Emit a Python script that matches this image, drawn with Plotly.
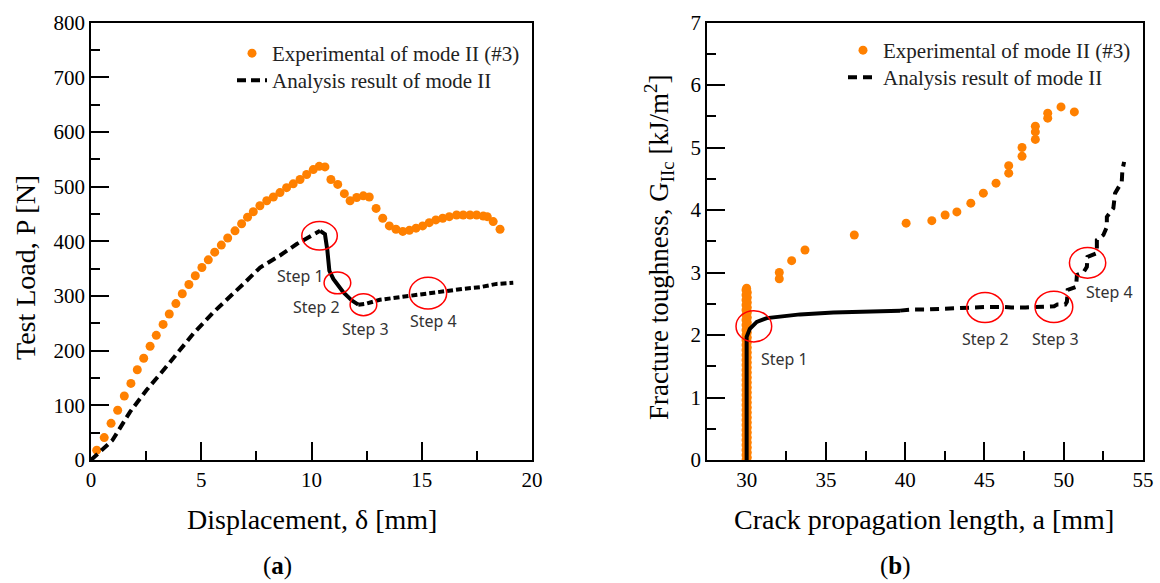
import plotly.graph_objects as go

# ---------------- Data (a): load-displacement ----------------
exp_disp = [0.26, 0.6, 0.91, 1.21, 1.51, 1.81, 2.1, 2.39, 2.68, 2.96, 3.27, 3.55, 3.85, 4.14,
            4.44, 4.73, 5.03, 5.32, 5.61, 5.91, 6.2, 6.53, 6.83, 7.1, 7.36, 7.66, 7.97, 8.27,
            8.57, 8.87, 9.17, 9.48, 9.78, 10.08, 10.35, 10.61, 10.88, 11.19, 11.49, 11.75,
            12.05, 12.35, 12.62, 12.93, 13.23, 13.53, 13.83, 14.14, 14.44, 14.74, 15.04,
            15.34, 15.64, 15.95, 16.25, 16.58, 16.88, 17.19, 17.49, 17.79, 17.97, 18.24, 18.55]
exp_load = [18, 41, 67, 91, 117, 140, 165, 186, 208, 228, 248, 267, 286, 304,
            321, 337, 352, 366, 380, 393, 406, 419, 432, 444, 454, 465, 474, 481,
            489, 498, 505, 513, 522, 531, 537, 536, 513, 504, 487, 474,
            480, 483, 481, 460, 442, 428, 422, 418, 420, 424, 428,
            434, 439, 442, 445, 448, 448, 448, 448, 446, 445, 436, 422]

ana_disp_pre = [0.0, 0.97, 1.77, 2.52, 3.28, 4.04, 4.64, 5.55, 6.3, 6.91, 7.67, 8.57, 9.33, 10.08, 10.39]
ana_load_pre = [0, 36, 88, 128, 164, 200, 231, 270, 298, 322, 352, 374, 395, 413, 419]
ana_disp_drop = [10.39, 10.61, 10.72, 10.81, 10.99, 11.44, 11.82, 12.12]
ana_load_drop = [419, 413, 383, 346, 331, 307, 292, 284]
ana_disp_post = [12.12, 12.5, 13.1, 13.86, 14.61, 15.37, 16.12, 16.88, 17.64, 18.4, 19.15]
ana_load_post = [284, 286, 293, 297, 301, 305, 310, 313, 316, 322, 324]

# ---------------- Data (b): fracture toughness ----------------
exp_col_a = [29.96, 30.04, 29.96, 30.04, 29.96, 30.04, 29.96, 30.04, 29.96, 30.04,
             29.96, 30.04, 29.96, 30.04, 29.96, 30.04, 29.96, 30.04, 29.96, 30.04,
             29.96, 30.04, 29.96, 30.04, 29.96, 30.04, 29.96, 30.04, 29.96, 30.04,
             29.96, 30.04, 29.96, 30.04, 29.96, 30.04, 29.96, 30.04, 29.96, 30.04,
             29.96, 30.04, 29.96, 30.04, 29.96, 30.04, 29.96, 30.04, 29.96, 30.04,
             29.96, 30.04, 29.96, 30.04, 29.96, 30.04, 29.96, 30.04, 29.96, 30.04,
             29.96, 30.04, 29.96, 30.04, 29.96, 30.04, 29.96, 30.04, 29.96, 30.0]
exp_col_g = [0.0, 0.04, 0.08, 0.12, 0.16, 0.2, 0.24, 0.28, 0.32, 0.36,
             0.4, 0.44, 0.48, 0.52, 0.56, 0.6, 0.64, 0.68, 0.72, 0.76,
             0.8, 0.84, 0.88, 0.92, 0.96, 1.0, 1.04, 1.08, 1.12, 1.16,
             1.2, 1.24, 1.28, 1.32, 1.36, 1.4, 1.44, 1.48, 1.52, 1.56,
             1.6, 1.64, 1.68, 1.72, 1.76, 1.8, 1.84, 1.88, 1.92, 1.96,
             2.0, 2.04, 2.08, 2.12, 2.16, 2.2, 2.24, 2.28, 2.32, 2.36,
             2.4, 2.44, 2.48, 2.52, 2.56, 2.6, 2.64, 2.68, 2.72, 2.75]
exp_a = [32.06, 32.06, 32.84, 33.68, 36.79, 40.06, 41.68, 42.52, 43.26, 44.14, 44.93,
         45.73, 46.53, 46.53, 47.37, 47.37, 48.21, 48.21, 48.21, 48.99, 48.99, 49.83, 50.67]
exp_g = [2.9, 3.0, 3.19, 3.36, 3.6, 3.79, 3.83, 3.92, 3.97, 4.11, 4.27,
         4.43, 4.59, 4.71, 4.86, 5.0, 5.13, 5.25, 5.34, 5.47, 5.55, 5.65, 5.57]

ana_a_solid = [30.0, 30.0, 30.0, 30.2, 30.64, 31.27, 32.3, 33.37, 35.47, 37.58, 39.26, 39.68]
ana_g_solid = [0.0, 1.0, 1.97, 2.1, 2.21, 2.27, 2.3, 2.33, 2.36, 2.38, 2.39, 2.39]
ana_a_dash = [39.68, 40.6, 41.5, 42.5, 44.6, 45.2, 46.2, 46.7, 47.6, 48.6, 49.4, 49.6, 50.1,
              50.2, 50.25, 50.78, 50.83, 51.24, 51.46, 51.5, 52.09, 52.09, 52.5, 52.72,
              52.72, 53.13, 53.24, 53.66, 53.7, 53.81]
ana_g_dash = [2.39, 2.41, 2.41, 2.42, 2.45, 2.45, 2.45, 2.44, 2.44, 2.45, 2.46, 2.49, 2.49,
              2.53, 2.72, 2.77, 2.96, 3.0, 3.09, 3.25, 3.31, 3.52, 3.6, 3.73,
              3.89, 4.03, 4.27, 4.45, 4.64, 4.77]

# ---------------- Annotations (steps) ----------------
steps_a = ["Step 1", "Step 2", "Step 3", "Step 4"]
step_circ_a = [(9.56, 11.17, 384, 436), (10.57, 11.78, 304, 344), (11.75, 12.96, 264, 304), (14.44, 16.13, 276, 334)]
step_lab_a = [(9.5, 337), (10.24, 279), (12.43, 240), (15.51, 255)]
step_circ_b = [(29.33, 31.58, 1.89, 2.39), (43.88, 46.19, 2.20, 2.68), (48.19, 50.57, 2.20, 2.70), (50.36, 52.65, 2.91, 3.40)]
step_lab_b = [(32.36, 1.62), (45.04, 1.94), (49.49, 1.94), (52.91, 2.69)]

ORANGE = "#FF8000"
SERIF = "Liberation Serif"

fig = go.Figure()

# (a)
fig.add_trace(go.Scatter(x=exp_disp, y=exp_load, mode="markers", name="Experimental of mode II (#3)",
                         marker=dict(color=ORANGE, size=9), xaxis="x", yaxis="y", legend="legend"))
fig.add_trace(go.Scatter(x=ana_disp_pre, y=ana_load_pre, mode="lines", name="Analysis result of mode II",
                         line=dict(color="black", width=4, dash="9px,5px"), xaxis="x", yaxis="y", legend="legend2"))
fig.add_trace(go.Scatter(x=ana_disp_drop, y=ana_load_drop, mode="lines", showlegend=False,
                         line=dict(color="black", width=4), xaxis="x", yaxis="y"))
fig.add_trace(go.Scatter(x=ana_disp_post, y=ana_load_post, mode="lines", showlegend=False,
                         line=dict(color="black", width=4, dash="6px,3px"), xaxis="x", yaxis="y"))

# (b)
fig.add_trace(go.Scatter(x=exp_col_a, y=exp_col_g, mode="markers", showlegend=False,
                         marker=dict(color=ORANGE, size=9), xaxis="x2", yaxis="y2"))
fig.add_trace(go.Scatter(x=exp_a, y=exp_g, mode="markers", name="Experimental of mode II (#3)",
                         marker=dict(color=ORANGE, size=9), xaxis="x2", yaxis="y2", legend="legend3"))
fig.add_trace(go.Scatter(x=ana_a_solid, y=ana_g_solid, mode="lines", showlegend=False,
                         line=dict(color="black", width=4), xaxis="x2", yaxis="y2"))
fig.add_trace(go.Scatter(x=ana_a_dash, y=ana_g_dash, mode="lines", name="Analysis result of mode II",
                         line=dict(color="black", width=4, dash="9px,6px"), xaxis="x2", yaxis="y2", legend="legend4"))

shapes = []
annotations = []
for (x0, x1, y0, y1) in step_circ_a:
    shapes.append(dict(type="circle", xref="x", yref="y", x0=x0, x1=x1, y0=y0, y1=y1,
                       line=dict(color="#FF0000", width=1.5)))
for (x0, x1, y0, y1) in step_circ_b:
    shapes.append(dict(type="circle", xref="x2", yref="y2", x0=x0, x1=x1, y0=y0, y1=y1,
                       line=dict(color="#FF0000", width=1.5)))
for t, (x, y) in zip(steps_a, step_lab_a):
    annotations.append(dict(text=t, x=x, y=y, xref="x", yref="y", showarrow=False,
                            xanchor="center", yanchor="middle",
                            font=dict(family="Noto Sans", size=16, color="#333333")))
for t, (x, y) in zip(steps_a, step_lab_b):
    annotations.append(dict(text=t, x=x, y=y, xref="x2", yref="y2", showarrow=False,
                            xanchor="center", yanchor="middle",
                            font=dict(family="Noto Sans", size=16, color="#333333")))

H = 583.0
W = 1160.0
def px(xp):
    return xp / W
def py(yp):
    return 1 - yp / H

title_font = dict(family=SERIF, size=28, color="black")
def paper_text(text, x, y, font, angle=0):
    return dict(text=text, x=px(x), y=py(y), xref="paper", yref="paper", textangle=angle,
                xanchor="center", yanchor="middle", showarrow=False, font=font)

annotations += [
    paper_text("Test Load, P [N]", 25, 268, title_font, -90),
    paper_text("Fracture toughness, G<sub>IIc</sub> [kJ/m<sup>2</sup>]", 659, 248,
               dict(family=SERIF, size=27, color="black"), -90),
    paper_text("Displacement, δ [mm]", 311.5, 519, title_font),
    paper_text("Crack propagation length, a [mm]", 924, 519, title_font),
    paper_text("(<b>a</b>)", 277.5, 566, dict(family=SERIF, size=25, color="black")),
    paper_text("(<b>b</b>)", 895, 566, dict(family=SERIF, size=25, color="black")),
]

tickfont = dict(family=SERIF, size=21, color="black")
def axis(rng, dtick, mdtick, domain, anchor):
    return dict(range=rng, dtick=dtick, tick0=0, domain=domain, anchor=anchor, automargin=False,
                showline=True, linecolor="black", linewidth=1.5, mirror=True,
                ticks="inside", ticklen=18, tickwidth=1.5, tickcolor="black",
                minor=dict(ticks="inside", ticklen=9, tickwidth=1.5, tickcolor="black", dtick=mdtick, tick0=0),
                showgrid=False, zeroline=False, tickfont=tickfont)

def leg(xp, ytop):
    return dict(x=px(xp), y=py(ytop), xanchor="left", yanchor="top", bgcolor="rgba(0,0,0,0)",
                font=dict(family=SERIF, size=21, color="#222222"))

ydom = [py(460), py(22.5)]
fig.update_layout(
    width=1160, height=583, margin=dict(l=0, r=0, t=0, b=0, autoexpand=False),
    paper_bgcolor="white", plot_bgcolor="white",
    xaxis=axis([0, 20], 5, 2.5, [px(91), px(532)], "y"),
    yaxis=axis([0, 800], 100, 50, ydom, "x"),
    xaxis2=axis([27.5, 55], 5, 2.5, [px(707), px(1143)], "y2"),
    yaxis2=axis([0, 7], 1, 0.5, ydom, "x2"),
    shapes=shapes, annotations=annotations,
    legend=leg(232, 33),
    legend2=leg(232, 60),
    legend3=leg(843, 30),
    legend4=leg(843, 57),
)

fig.write_html("out.html")
